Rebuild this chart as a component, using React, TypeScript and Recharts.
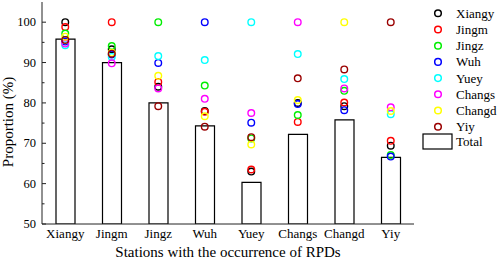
import React from 'react';
import { ComposedChart, Bar, Scatter, XAxis, YAxis, Legend } from 'recharts';

const stations = ['Xiangy', 'Jingm', 'Jingz', 'Wuh', 'Yuey', 'Changs', 'Changd', 'Yiy'];
const total = [95.8, 90.0, 80.0, 74.3, 60.3, 72.2, 75.8, 66.5];
const xiangy = [100, 93.3, 84.0, 78.0, 63.0, 80.0, 79.2, 69.4];
const jingm = [98.8, 100, 85.2, 77.8, 63.5, 75.3, 80.1, 70.6];
const jingz = [97.2, 94.1, 100, 84.3, 71.2, 77.0, 83.0, 67.1];
const wuh = [95.2, 92.0, 89.9, 100, 75.1, 79.7, 78.2, 66.7];
const yuey = [94.3, 91.4, 91.6, 90.6, 100, 92.1, 85.9, 77.2];
const changs = [94.7, 89.8, 83.6, 81.0, 77.5, 100, 83.6, 78.9];
const changd = [96.4, 92.4, 86.7, 76.7, 69.7, 80.7, 100, 78.0];
const yiy = [95.6, 92.2, 79.2, 74.1, 71.5, 86.1, 88.3, 100];

const seriesNames = ['Xiangy', 'Jingm', 'Jingz', 'Wuh', 'Yuey', 'Changs', 'Changd', 'Yiy'];
const seriesValues = [xiangy, jingm, jingz, wuh, yuey, changs, changd, yiy];
const seriesColors = ['#000000', '#ff0000', '#00ee00', '#0000ff', '#00ffff', '#ff00ff', '#ffff00', '#9a0000'];
const yTicks = [50, 55, 60, 65, 70, 75, 80, 85, 90, 95, 100];

const data = stations.map((s, i) => {
  const row: any = { station: s, Total: total[i] };
  seriesNames.forEach((n, k) => {
    row[n] = seriesValues[k][i];
  });
  return row;
});

const FONT = '"Liberation Serif", "Times New Roman", serif';

const YTick = (props: any) => {
  const { x, y, payload } = props;
  const major = payload.value % 10 === 0;
  const ax = x + 6;
  return (
    <g>
      <line x1={ax} x2={ax + (major ? 4 : 2.5)} y1={y} y2={y} stroke="#222" strokeWidth={1} />
      {major && (
        <text x={x} y={y} dy={4.2} textAnchor="end" fontSize={12.5} fontFamily={FONT} fill="#000">
          {payload.value}
        </text>
      )}
    </g>
  );
};

const makeShape = (color: string) => (props: any) => (
  <circle cx={props.cx} cy={props.cy} r={3.3} fill="none" stroke={color} strokeWidth={1.4} />
);

const LegendContent = () => (
  <svg width={80} height={152} style={{ display: 'block' }}>
    {seriesNames.map((n, i) => (
      <g key={n}>
        <circle cx={20} cy={13.3 + 16.2 * i} r={3.3} fill="none" stroke={seriesColors[i]} strokeWidth={1.5} />
        <text x={38} y={13.3 + 16.2 * i + 4.5} fontSize={13} fontFamily={FONT} fill="#000">
          {n}
        </text>
      </g>
    ))}
    <rect x={5} y={134} width={29} height={15} fill="none" stroke="#000" strokeWidth={1.2} />
    <text x={38} y={146} fontSize={13} fontFamily={FONT} fill="#000">
      Total
    </text>
  </svg>
);

export default function App() {
  return (
    <div style={{ position: 'absolute', left: 0, top: 0, width: 498, height: 261, background: '#fff' }}>
      <ComposedChart
        width={498}
        height={261}
        data={data}
        margin={{ top: 2, right: 84, bottom: 0, left: 0 }}
      >
        <XAxis
          dataKey="station"
          height={37}
          tickLine={false}
          tickSize={0}
          tickMargin={5}
          axisLine={{ stroke: '#222' }}
          tick={{ fontSize: 13, fontFamily: FONT, fill: '#000' }}
          interval={0}
          label={{
            content: (p: any) => {
              const vb = p.viewBox;
              return (
                <text x={vb.x + vb.width / 2} y={vb.y + vb.height - 4} textAnchor="middle" fontSize={15} fontFamily={FONT} fill="#000">
                  Stations with the occurrence of RPDs
                </text>
              );
            },
          }}
        />
        <XAxis xAxisId="top" dataKey="station" orientation="top" height={0} tick={false} tickLine={false} axisLine={{ stroke: '#222' }} />
        <YAxis
          domain={[50, 105]}
          ticks={yTicks}
          interval={0}
          width={42}
          tickSize={0}
          tickMargin={6}
          tickLine={false}
          axisLine={{ stroke: '#222' }}
          tick={<YTick />}
          allowDataOverflow
          label={{
            content: (p: any) => {
              const cx = 13;
              const cy = 122;
              return (
                <text x={cx} y={cy} transform={`rotate(-90 ${cx} ${cy})`} textAnchor="middle" fontSize={15} fontFamily={FONT} fill="#000">
                  Proportion (%)
                </text>
              );
            },
          }}
        />
        <YAxis yAxisId="right" orientation="right" width={0} domain={[50, 105]} tick={false} tickLine={false} axisLine={{ stroke: '#222' }} />
        <Bar dataKey="Total" barSize={19} fill="#ffffff" stroke="#000" strokeWidth={1.2} isAnimationActive={false} />
        {seriesNames.map((n, i) => (
          <Scatter key={n} dataKey={n} name={n} fill="none" shape={makeShape(seriesColors[i])} isAnimationActive={false} />
        ))}
        <Legend
          layout="vertical"
          align="center"
          verticalAlign="middle"
          wrapperStyle={{ left: 418, top: 0, width: 80, height: 152 }}
          content={<LegendContent />}
        />
      </ComposedChart>
    </div>
  );
}
